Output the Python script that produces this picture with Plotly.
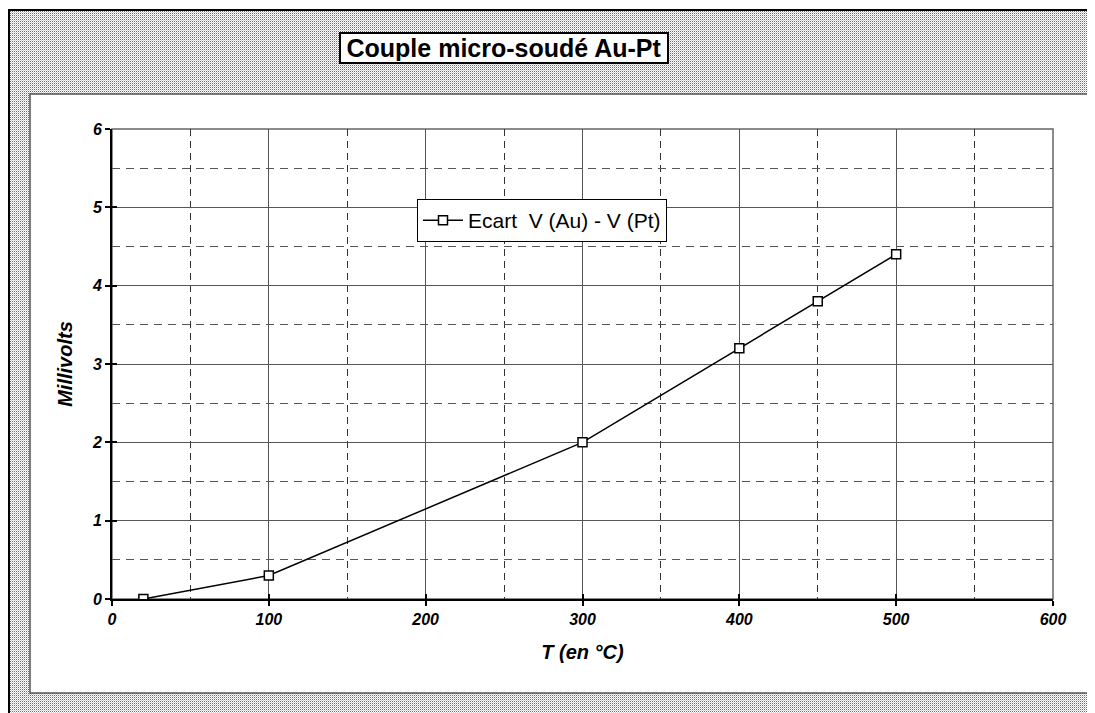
import base64
import plotly.graph_objects as go

# ---- data ----
temperature_c = [20, 100, 300, 400, 450, 500]
millivolts = [0.0, 0.3, 2.0, 3.2, 3.8, 4.4]
series_name = "Ecart  V (Au) - V (Pt)"
chart_title = "Couple micro-soudé Au-Pt"
x_title = "T (en °C)"
y_title = "Millivolts"
x_ticks = [0, 100, 200, 300, 400, 500, 600]
y_ticks = [0, 1, 2, 3, 4, 5, 6]

# ---- layout geometry (page pixels; the page body adds an 8px offset) ----
OFF = 8
W, H = 1095 - OFF, 713 - OFF
PL, PR, PT, PB = 112 - OFF, 1053 - OFF, 129 - OFF, 599 - OFF
FONT = "Liberation Sans, Arial, sans-serif"


def px(xp):
    return (xp - OFF - PL) / (PR - PL)


def py(yp):
    return (PB - (yp - OFF)) / (PB - PT)


svg = (
    "<svg xmlns='http://www.w3.org/2000/svg' width='1100' height='720' preserveAspectRatio='none'>"
    "<defs><pattern id='p' width='2' height='2' patternUnits='userSpaceOnUse'>"
    "<rect width='2' height='2' fill='#ffffff'/>"
    "<rect x='0' y='0' width='1' height='1' fill='#6e6e6e'/>"
    "<rect x='1' y='1' width='1' height='1' fill='#cfcfcf'/>"
    "</pattern></defs><rect width='1100' height='720' fill='url(#p)'/></svg>"
)
svg_uri = "data:image/svg+xml;base64," + base64.b64encode(svg.encode()).decode()

fig = go.Figure()
fig.add_trace(go.Scatter(
    x=temperature_c, y=millivolts, name=series_name,
    mode="lines+markers",
    line=dict(color="black", width=1.5),
    marker=dict(symbol="square", size=9, color="white",
                line=dict(color="black", width=1.5)),
))
# overlay axes only to draw the inner half of the crossing ticks
fig.add_trace(go.Scatter(x=[], y=[], xaxis="x2", yaxis="y2",
                         showlegend=False, hoverinfo="skip"))

tickfont = dict(family=FONT, size=16, color="black", weight="bold", style="italic")
titlefont = dict(family=FONT, size=20, color="black", weight="bold", style="italic")

fig.update_layout(
    width=W, height=H,
    margin=dict(l=PL, r=W - PR, t=PT, b=H - PB),
    paper_bgcolor="white",
    plot_bgcolor="rgba(0,0,0,0)",
    showlegend=True,
    legend=dict(
        x=px(417), y=py(199), xanchor="left", yanchor="top",
        bgcolor="white", bordercolor="black", borderwidth=1,
        itemwidth=40,
        font=dict(family=FONT, size=21, color="black"),
    ),
    xaxis=dict(
        range=[0, 600], tickvals=x_ticks, ticktext=[str(v) for v in x_ticks],
        showline=True, linecolor="black", linewidth=2,
        ticks="outside", ticklen=5, tickwidth=1.5, tickcolor="black",
        showgrid=True, gridcolor="#555555", gridwidth=1,
        minor=dict(dtick=50, showgrid=True, gridcolor="#333333",
                   griddash="7px,5px", gridwidth=1),
        zeroline=False, tickfont=tickfont,
        title=dict(text=x_title, font=titlefont, standoff=18),
    ),
    yaxis=dict(
        range=[0, 6], tickvals=y_ticks, ticktext=[str(v) for v in y_ticks],
        showline=True, linecolor="black", linewidth=2,
        ticks="outside", ticklen=5, tickwidth=1.5, tickcolor="black",
        showgrid=True, gridcolor="#555555", gridwidth=1,
        minor=dict(dtick=0.5, showgrid=True, gridcolor="#555555",
                   griddash="8px,6px", gridwidth=1),
        zeroline=False, tickfont=tickfont,
        title=dict(text=y_title, font=titlefont, standoff=14),
    ),
    xaxis2=dict(range=[0, 600], overlaying="x", anchor="y2", side="bottom",
                tickvals=x_ticks, showticklabels=False, ticks="inside",
                ticklen=5, tickwidth=1.5, tickcolor="black",
                showgrid=False, zeroline=False, showline=False),
    yaxis2=dict(range=[0, 6], overlaying="y", anchor="x2", side="left",
                tickvals=y_ticks, showticklabels=False, ticks="inside",
                ticklen=5, tickwidth=1.5, tickcolor="black",
                showgrid=False, zeroline=False, showline=False),
    images=[dict(
        source=svg_uri, xref="paper", yref="paper",
        x=px(10), y=py(11), sizex=px(10 + 1100) - px(10), sizey=py(11) - py(11 + 720),
        xanchor="left", yanchor="top", sizing="stretch", layer="below",
    )],
    shapes=[
        # inner white chart area
        dict(type="rect", xref="paper", yref="paper", layer="below",
             x0=px(30), x1=px(1090), y0=py(693), y1=py(94),
             fillcolor="white", line=dict(color="#555555", width=1.5)),
        # plot area border (gray)
        dict(type="rect", xref="paper", yref="paper", layer="below",
             x0=0, x1=1, y0=0, y1=1,
             fillcolor="white", line=dict(color="#666666", width=1.5)),
        # outer black frame (top and left)
        dict(type="line", xref="paper", yref="paper",
             x0=px(8), x1=px(1100), y0=py(10), y1=py(10),
             line=dict(color="black", width=2)),
        dict(type="line", xref="paper", yref="paper",
             x0=px(9), x1=px(9), y0=py(9), y1=py(720),
             line=dict(color="black", width=2)),
    ],
    annotations=[dict(
        text=chart_title, xref="paper", yref="paper",
        x=px(504), y=py(48), xanchor="center", yanchor="middle",
        showarrow=False, bgcolor="white", bordercolor="black",
        borderwidth=2, borderpad=1, width=324, height=26,
        font=dict(family=FONT, size=25, color="black", weight="bold"),
    )],
)

fig.write_html("out.html")
